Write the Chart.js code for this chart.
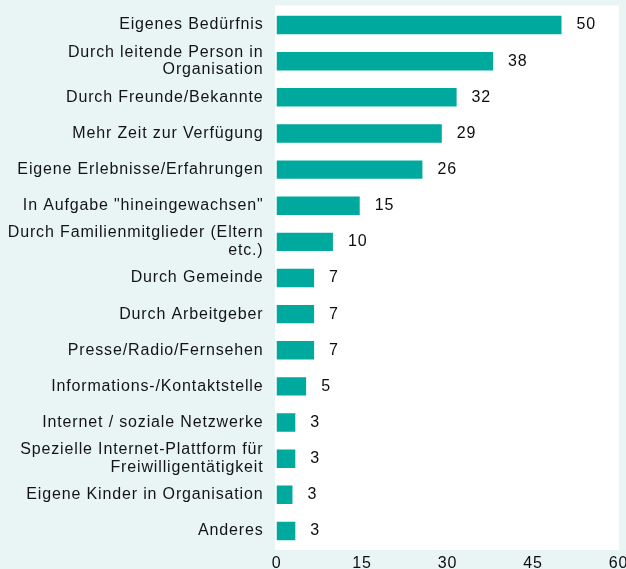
<!DOCTYPE html>
<html>
<head>
<meta charset="utf-8">
<script src="https://cdn.jsdelivr.net/npm/chart.js@4"></script>
<style>
  html, body { margin: 0; padding: 0; background: rgb(233,245,245); }
  #wrap { width: 626px; height: 569px; position: relative; }
</style>
</head>
<body>
<div id="wrap"><canvas id="c"></canvas></div>
<script>
const categories = [
  "Eigenes Bedürfnis",
  ["Durch leitende Person in", "Organisation"],
  "Durch Freunde/Bekannte",
  "Mehr Zeit zur Verfügung",
  "Eigene Erlebnisse/Erfahrungen",
  'In Aufgabe "hineingewachsen"',
  ["Durch Familienmitglieder (Eltern", "etc.)"],
  "Durch Gemeinde",
  "Durch Arbeitgeber",
  "Presse/Radio/Fernsehen",
  "Informations-/Kontaktstelle",
  "Internet / soziale Netzwerke",
  ["Spezielle Internet-Plattform für", "Freiwilligentätigkeit"],
  "Eigene Kinder in Organisation",
  "Anderes"
];
const values = [50, 38, 31.6, 29, 25.6, 14.6, 9.9, 6.6, 6.6, 6.6, 5.2, 3.3, 3.3, 2.8, 3.3];
const xTicks = [0, 15, 30, 45, 60];

const FONT = "'Liberation Sans', Arial, Helvetica, sans-serif";
const FSIZE = 16;
const MINT = "rgb(233,245,245)";
const BAR = "#00a99d";
const LS = "0.85px";

const spacingPlugin = {
  id: 'spacing',
  beforeLayout(chart) { chart.ctx.letterSpacing = LS; },
  beforeDraw(chart) {
    const ctx = chart.ctx;
    ctx.letterSpacing = LS;
    const a = chart.chartArea;
    ctx.save();
    ctx.fillStyle = MINT;
    ctx.fillRect(0, 0, chart.width, chart.height);
    ctx.fillStyle = "#ffffff";
    ctx.fillRect(a.left - 1.5, a.top - 1.5, a.right - a.left + 2, a.bottom - a.top + 2.5);
    ctx.restore();
  }
};

const valueLabels = {
  id: 'valueLabels',
  afterDatasetsDraw(chart) {
    const ctx = chart.ctx;
    ctx.save();
    ctx.letterSpacing = LS;
    ctx.font = FSIZE + "px " + FONT;
    ctx.fillStyle = "#0d0d0d";
    ctx.textAlign = "left";
    ctx.textBaseline = "middle";
    chart.getDatasetMeta(0).data.forEach((el, i) => {
      ctx.fillText(String(Math.round(values[i])), el.x + 15, el.y);
    });
    ctx.restore();
  }
};

function zeroPad(scale) {
  scale.paddingLeft = 0; scale.paddingRight = 0;
  scale.paddingTop = 0; scale.paddingBottom = 0;
}

new Chart(document.getElementById('c'), {
  type: 'bar',
  data: {
    labels: categories,
    datasets: [{
      data: values,
      backgroundColor: BAR,
      borderWidth: 0,
      categoryPercentage: 1,
      barPercentage: 0.51
    }]
  },
  options: {
    indexAxis: 'y',
    responsive: true,
    maintainAspectRatio: false,
    animation: false,
    devicePixelRatio: 1,
    layout: { padding: { top: 7, right: 7.5, left: 0, bottom: 0 } },
    plugins: { legend: { display: false }, tooltip: { enabled: false } },
    scales: {
      x: {
        min: 0, max: 60,
        grid: { display: false, drawTicks: false },
        border: { display: false },
        afterBuildTicks(scale) { scale.ticks = xTicks.map(v => ({ value: v })); },
        ticks: {
          stepSize: 15,
          padding: 4.5,
          maxRotation: 0,
          autoSkip: false,
          color: "#0d0d0d",
          font: { family: FONT, size: FSIZE }
        },
        afterFit(scale) { zeroPad(scale); scale.height = 20; }
      },
      y: {
        grid: { display: false, drawTicks: false },
        border: { display: false },
        ticks: {
          padding: 13,
          autoSkip: false,
          color: "#141414",
          font: { family: FONT, size: FSIZE, lineHeight: 1.1 }
        },
        afterFit(scale) { zeroPad(scale); scale.width = 276.5; }
      }
    }
  },
  plugins: [spacingPlugin, valueLabels]
});
</script>
</body>
</html>
